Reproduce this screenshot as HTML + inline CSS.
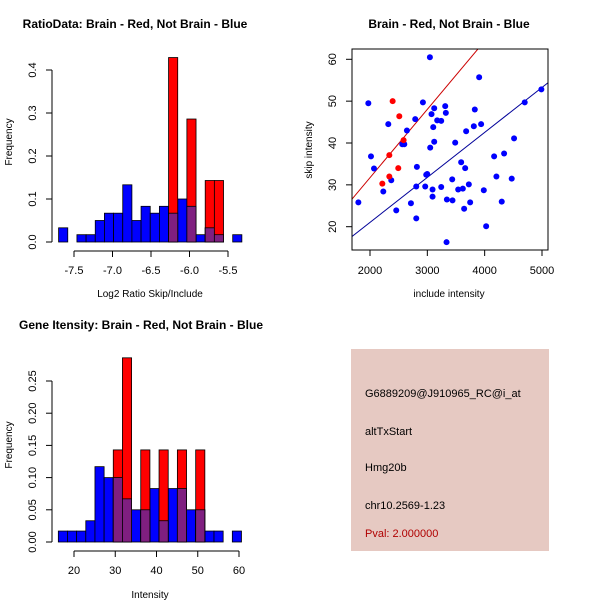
<!DOCTYPE html>
<html><head><meta charset="utf-8"><style>
html,body{margin:0;padding:0;background:#fff}
svg{display:block;font-family:"Liberation Sans",sans-serif}
</style></head><body>
<svg id="c" width="600" height="600" viewBox="0 0 600 600">
<rect x="351" y="349" width="198" height="202" fill="#e6c9c2"/>
<text x="365" y="397" font-size="11">G6889209@J910965_RC@i_at</text>
<text x="365" y="435" font-size="11">altTxStart</text>
<text x="365" y="471" font-size="11">Hmg20b</text>
<text x="365" y="509" font-size="11">chr10.2569-1.23</text>
<text x="365" y="537" font-size="11" fill="#b00000">Pval: 2.000000</text>
</svg>
<script>
// ---- data: ratio histogram ----
const ratioBinStart = -7.70;
const ratioBinWidth = 0.119;
const ratioBlue = [0.033,0,0.017,0.017,0.05,0.067,0.067,0.133,0.05,0.083,0.067,0.083,0.067,0.1,0.083,0.017,0.033,0.017,0,0.017];
const ratioRed  = [0,0,0,0,0,0,0,0,0,0,0,0,0.429,0,0.286,0,0.143,0.143,0,0];
const ratioXTicks = [-7.5,-7.0,-6.5,-6.0,-5.5];
const ratioXTickLabels = ["-7.5","-7.0","-6.5","-6.0","-5.5"];
const ratioYTicks = [0,0.1,0.2,0.3,0.4];
const ratioYTickLabels = ["0.0","0.1","0.2","0.3","0.4"];
// ---- data: intensity histogram ----
const intBinStart = 16.2;
const intBinWidth = 2.22;
const intBlue = [0.017,0.017,0.017,0.033,0.117,0.1,0.1,0.067,0.05,0.05,0.083,0.033,0.083,0.083,0.05,0.05,0.017,0.017,0,0.017];
const intRed  = [0,0,0,0,0,0,0.143,0.286,0,0.143,0,0.143,0,0.143,0,0.143,0,0,0,0];
const intXTicks = [20,30,40,50,60];
const intXTickLabels = ["20","30","40","50","60"];
const intYTicks = [0,0.05,0.1,0.15,0.2,0.25];
const intYTickLabels = ["0.00","0.05","0.10","0.15","0.20","0.25"];
// ---- data: scatter ----
const redX = [2215,2395,2511,2337,2493,2337,2586];
const redY = [30.3,50,46.4,37.1,34,32,40.7];
const blueX = [1797,1971,2017,2070,2232,2319,2371,2458,2563,2598,2644,2714,2789,2807,2818,2807,2923,2963,2981,2998,3045,3050,3073,3091,3091,3103,3120,3120,3172,3242,3242,3312,3323,3341,3335,3434,3439,3486,3538,3590,3619,3642,3660,3677,3724,3747,3811,3828,3904,3938,3985,4026,4165,4205,4339,4298,4472,4513,4699,4989];
const blueY = [25.8,49.5,36.8,33.9,28.4,44.5,31.1,23.9,39.7,39.7,43,25.6,45.7,29.6,34.3,22,49.7,29.6,32.4,32.6,60.5,38.9,46.9,28.9,27.2,43.8,48.3,40.3,45.4,45.3,29.5,48.8,47.2,26.5,16.3,31.3,26.3,40.1,28.9,35.4,29.1,24.3,34,42.8,30.1,25.8,44,48,55.7,44.5,28.7,20.1,36.8,32,37.5,26,31.5,41.1,49.7,52.8];
const fitRed = [-0.95,0.01633];
const fitBlue = [-0.47,0.01075];
const scXTicks = [2000,3000,4000,5000];
const scYTicks = [20,30,40,50,60];

const svg = document.getElementById('c');
const NS = 'http://www.w3.org/2000/svg';
function mk(tag, attrs, parent){const e=document.createElementNS(NS,tag);for(const k in attrs)e.setAttribute(k,attrs[k]);(parent||svg).appendChild(e);return e;}
function txt(x,y,s,size,extra){const e=mk('text',Object.assign({x:x,y:y,'font-size':size,'text-anchor':'middle'},extra||{}));e.textContent=s;return e;}

function histogram(o){
  const g = mk('g',{});
  
  
  const sx=v=>o.x0+(v-o.xv0)*o.kx, sy=v=>o.y0-v*o.ky;
  o.blue.forEach((b,i)=>{
    const a=o.binStart+i*o.binWidth, x1=sx(a), x2=sx(a+o.binWidth);
    if(b>0){const r=mk('rect',{x:x1,y:sy(b),width:x2-x1,height:o.y0-sy(b),fill:'#0000ff',stroke:'#000','stroke-width':0.8},g);
      
      }
  });
  o.red.forEach((rv,i)=>{
    const a=o.binStart+i*o.binWidth, x1=sx(a), x2=sx(a+o.binWidth);
    if(rv>0){const r=mk('rect',{x:x1,y:sy(rv),width:x2-x1,height:o.y0-sy(rv),fill:'#ff0000',stroke:'#000','stroke-width':0.8},g);
      
      
      const m=Math.min(rv,o.blue[i]);
      if(m>0){const p=mk('rect',{x:x1,y:sy(m),width:x2-x1,height:o.y0-sy(m),fill:'#7f1f80',stroke:'#000','stroke-width':0.8},g);
        
        }
    }
  });
  const xa=o.xTicks;
  mk('line',{x1:sx(xa[0]),x2:sx(xa[xa.length-1]),y1:o.axY,y2:o.axY,stroke:'#000'},g);
  xa.forEach((t,i)=>{mk('line',{x1:sx(t),x2:sx(t),y1:o.axY,y2:o.axY+6,stroke:'#000'},g);
    const l=txt(sx(t),o.axY+23,o.xLabels[i],11);});
  const ya=o.yTicks;
  mk('line',{x1:o.axX,x2:o.axX,y1:sy(ya[0]),y2:sy(ya[ya.length-1]),stroke:'#000'},g);
  ya.forEach((t,i)=>{mk('line',{x1:o.axX,x2:o.axX-6,y1:sy(t),y2:sy(t),stroke:'#000'},g);
    const l=txt(o.axX-16,sy(t),o.yLabels[i],11,{transform:`rotate(-90 ${o.axX-16} ${sy(t)})`});});
  const t=txt(o.titleX,o.titleY,o.title,12,{'font-weight':'bold'});
  const xl=txt(o.xlabX,o.xlabY,o.xlab,10);
  const yl=txt(12,o.ylabY,'Frequency',10,{transform:`rotate(-90 12 ${o.ylabY})`});
}
histogram({name:'ratio-histogram',binStart:ratioBinStart,binWidth:ratioBinWidth,blue:ratioBlue,red:ratioRed,
  x0:74,xv0:-7.5,kx:77,y0:242,ky:430,axY:251,axX:52,xTicks:ratioXTicks,xLabels:ratioXTickLabels,yTicks:ratioYTicks,yLabels:ratioYTickLabels,
  title:'RatioData: Brain - Red, Not Brain - Blue',titleX:135,titleY:28,xlab:'Log2 Ratio Skip/Include',xlabX:150,xlabY:297,ylabY:142});
histogram({name:'intensity-histogram',binStart:intBinStart,binWidth:intBinWidth,blue:intBlue,red:intRed,
  x0:74,xv0:20,kx:4.125,y0:542,ky:644,axY:551,axX:52,xTicks:intXTicks,xLabels:intXTickLabels,yTicks:intYTicks,yLabels:intYTickLabels,
  title:'Gene Itensity: Brain - Red, Not Brain - Blue',titleX:141,titleY:329,xlab:'Intensity',xlabX:150,xlabY:598,ylabY:445});

(function(){
  const g=mk('g',{});
  
  
  const L=352,R=548,T=49,B=250;
  const sx=v=>370+(v-2000)*0.05733, sy=v=>59.3-(v-60)*4.185;
  const cp=mk('clipPath',{id:'scclip'},g);mk('rect',{x:L,y:T,width:R-L,height:B-T},cp);
  [[fitRed,'#cc0000','red-fit-line'],[fitBlue,'#000099','blue-fit-line']].forEach(([f,c,n])=>{
    const xa=1500,xb=5300;
    const l=mk('line',{x1:sx(xa),y1:sy(f[0]+f[1]*xa),x2:sx(xb),y2:sy(f[0]+f[1]*xb),stroke:c,'clip-path':'url(#scclip)'},g);
    
    
  });
  blueX.forEach((x,i)=>{const c=mk('circle',{cx:sx(x),cy:sy(blueY[i]),r:3,fill:'#0000ff'},g);
    
    });
  redX.forEach((x,i)=>{const c=mk('circle',{cx:sx(x),cy:sy(redY[i]),r:3,fill:'#ff0000'},g);
    
    });
  mk('rect',{x:L,y:T,width:R-L,height:B-T,fill:'none',stroke:'#000'},g);
  scXTicks.forEach(t=>{mk('line',{x1:sx(t),x2:sx(t),y1:B,y2:B+6,stroke:'#000'},g);
    const l=txt(sx(t),B+24,String(t),11);});
  scYTicks.forEach(t=>{mk('line',{x1:L,x2:L-6,y1:sy(t),y2:sy(t),stroke:'#000'},g);
    const l=txt(L-16,sy(t),String(t),11,{transform:`rotate(-90 ${L-16} ${sy(t)})`});});
  const t=txt(449,28,'Brain - Red, Not Brain - Blue',12,{'font-weight':'bold'});
  const xl=txt(449,297,'include intensity',10);
  const yl=txt(312,150,'skip intensity',10,{transform:'rotate(-90 312 150)'});
})();
</script>
</body></html>
